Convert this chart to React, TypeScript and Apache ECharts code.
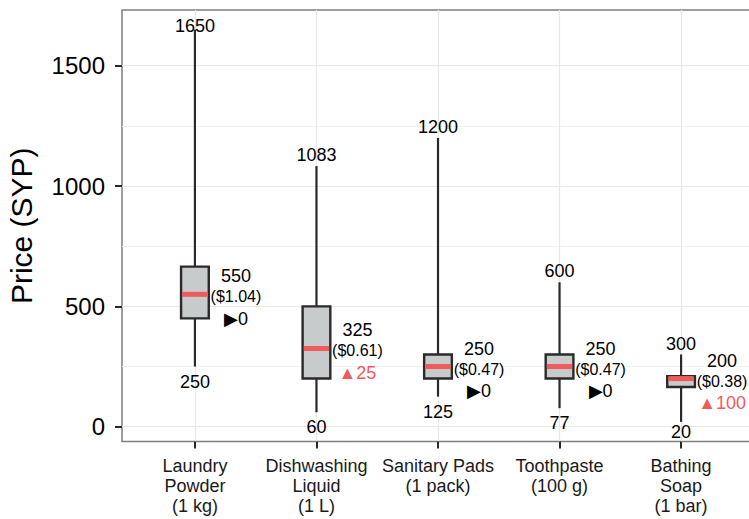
import React, { useEffect, useRef } from "react";
import * as echarts from "echarts";

const categories = [
  "Laundry\nPowder\n(1 kg)",
  "Dishwashing\nLiquid\n(1 L)",
  "Sanitary Pads\n(1 pack)",
  "Toothpaste\n(100 g)",
  "Bathing\nSoap\n(1 bar)",
];
const minValues = [250, 60, 125, 77, 20];
const q1Values = [450, 200, 200, 200, 165];
const medianValues = [550, 325, 250, 250, 200];
const q3Values = [665, 500, 300, 300, 210];
const maxValues = [1650, 1083, 1200, 600, 300];
const usdLabels = ["($1.04)", "($0.61)", "($0.47)", "($0.47)", "($0.38)"];
const changeValues = [0, 25, 0, 0, 100];
const yTickValues = [0, 500, 1000, 1500];
const xTickValues = [1, 2, 3, 4, 5];

const FONT = '"Liberation Sans", Arial, Helvetica, sans-serif';
const RED = "#EF5B5B";
const DARK = "#2A2A2A";
const BOX_FILL = "#C7CBCB";

export default function App() {
  const ref = useRef<HTMLDivElement>(null);

  useEffect(() => {
    const chart = echarts.init(ref.current!, null, { renderer: "svg" });
    const data = categories.map((_, i) => [
      i + 1,
      minValues[i],
      q1Values[i],
      medianValues[i],
      q3Values[i],
      maxValues[i],
      i,
    ]);

    const renderItem = (params: any, api: any) => {
      const x = api.value(0);
      const idx = api.value(6);
      const pMin = api.coord([x, api.value(1)]);
      const pQ1 = api.coord([x, api.value(2)]);
      const pMed = api.coord([x, api.value(3)]);
      const pQ3 = api.coord([x, api.value(4)]);
      const pMax = api.coord([x, api.value(5)]);
      const boxW = api.size([0.228, 0])[0];
      const cs = params.coordSys;
      const cx = pMed[0];
      const change = changeValues[idx];
      const changeText = change > 0 ? "▲" + change : change < 0 ? "▼" + Math.abs(change) : "▶0";
      const changeColor = change > 0 ? RED : "#000";
      const txt = (text: string, tx: number, ty: number, size: number, fill: string) => ({
        type: "text",
        x: tx,
        y: ty,
        style: {
          text,
          fill,
          fontSize: size,
          fontFamily: FONT,
          align: "center",
          verticalAlign: "middle",
        },
      });
      return {
        type: "group",
        children: [
          {
            type: "line",
            shape: { x1: cx, y1: pMax[1], x2: cx, y2: pQ3[1] },
            style: { stroke: DARK, lineWidth: 2.2 },
          },
          {
            type: "line",
            shape: { x1: cx, y1: pQ1[1], x2: cx, y2: pMin[1] },
            style: { stroke: DARK, lineWidth: 2.2 },
          },
          {
            type: "rect",
            shape: { x: cx - boxW / 2, y: pQ3[1], width: boxW, height: pQ1[1] - pQ3[1] },
            style: { fill: BOX_FILL, stroke: DARK, lineWidth: 2.4 },
          },
          {
            type: "rect",
            shape: { x: cx - boxW / 2 + 1.2, y: pMed[1] - 2.5, width: boxW - 2.4, height: 5 },
            style: { fill: RED },
          },
          txt(String(maxValues[idx]), cx, Math.max(pMax[1] - 11, cs.y + 16), 18, "#000"),
          txt(String(minValues[idx]), cx, Math.min(pMin[1] + 15, cs.y + cs.height - 10), 18, "#000"),
          txt(String(medianValues[idx]), cx + 41, pMed[1] - 18, 18, "#000"),
          txt(usdLabels[idx], cx + 41, pMed[1] + 2.5, 16, "#000"),
          txt(changeText, cx + 41, pMed[1] + 24.5, 18, changeColor),
        ],
      };
    };

    const option = {
      animation: false,
      grid: {
        left: 122,
        top: 10,
        width: 632,
        height: 431.5,
        show: true,
        borderColor: "#7F7F7F",
        borderWidth: 1.5,
        backgroundColor: "transparent",
        containLabel: false,
        outerBoundsMode: "none",
      },
      xAxis: {
        type: "value",
        min: 0.4,
        max: 5.6,
        splitNumber: 5,
        axisLine: { show: false, onZero: false },
        axisTick: {
          show: true,
          length: 7,
          customValues: xTickValues,
          lineStyle: { color: DARK, width: 2 },
        },
        axisLabel: {
          customValues: xTickValues,
          formatter: (v: number) => categories[Math.round(v) - 1] ?? "",
          fontFamily: FONT,
          fontSize: 18,
          lineHeight: 20,
          color: "#1A1A1A",
          margin: 14,
          align: "center",
          verticalAlign: "top",
        },
        splitLine: { show: true, lineStyle: { color: "#E8E8E8", width: 1.2 } },
      },
      yAxis: {
        type: "value",
        min: -61.5,
        max: 1731.5,
        splitNumber: 4,
        axisLine: { show: false, onZero: false },
        axisTick: {
          show: true,
          length: 7,
          customValues: yTickValues,
          lineStyle: { color: DARK, width: 2 },
        },
        axisLabel: {
          customValues: yTickValues,
          formatter: (v: number) => String(v),
          fontFamily: FONT,
          fontSize: 24,
          color: "#000",
          margin: 17,
        },
        splitLine: { show: true, lineStyle: { color: "#E8E8E8", width: 1.2 } },
        minorTick: { show: false, splitNumber: 2 },
        minorSplitLine: { show: true, lineStyle: { color: "#F2F2F2", width: 1 } },
        name: "Price (SYP)",
        nameLocation: "middle",
        nameGap: 86,
        nameMoveOverlap: false,
        nameTextStyle: { fontFamily: FONT, fontSize: 30, color: "#000" },
      },
      series: [
        {
          type: "custom",
          renderItem,
          data,
          encode: { x: 0, y: [1, 5] },
          clip: false,
        },
      ],
    };

    chart.setOption(option as any);
    return () => chart.dispose();
  }, []);

  return (
    <div
      ref={ref}
      style={{ position: "fixed", left: 0, top: 0, width: 749, height: 519, background: "#fff" }}
    />
  );
}
